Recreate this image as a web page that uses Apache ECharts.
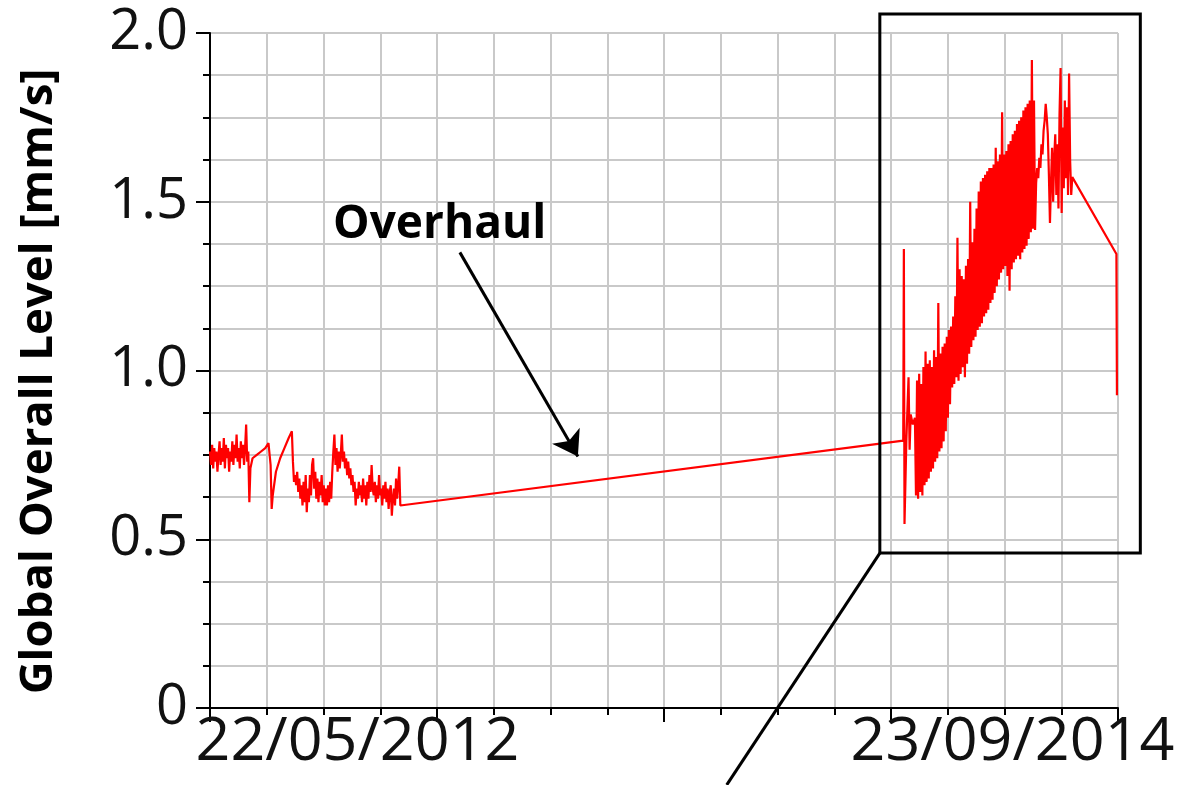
<!DOCTYPE html>
<html><head><meta charset="utf-8">
<script src="https://cdn.jsdelivr.net/npm/echarts@6/dist/echarts.min.js"></script>
<style>html,body{margin:0;padding:0;background:#fff}#c{width:1186px;height:785px}</style>
</head><body><div id="c"></div>
<script>
// x = days since 22/05/2012
const dateLabels = ['22/05/2012', '23/09/2014'];
const spanDays = 854;
const yMax = 2.0;
const yTitle = 'Global Overall Level [mm/s]';
const annotationText = 'Overhaul';

const beforeOverhaul = [
[0,0.76],[1,0.72],[2,0.78],[3,0.71],[4,0.77],[5,0.73],[6,0.76],[7,0.70],[8,0.75],[9,0.79],
[10,0.72],[11,0.77],[12,0.73],[13,0.80],[14,0.71],[15,0.78],[16,0.74],[17,0.77],[18,0.70],[19,0.76],
[20,0.73],[21,0.79],[22,0.72],[23,0.78],[24,0.74],[25,0.81],[26,0.73],[27,0.77],[28,0.71],[29,0.79],
[30,0.74],[31,0.78],[32,0.72],[33,0.77],[34,0.84],[35,0.73],[36,0.76],[37,0.61],[38,0.71],[40,0.74],
[44,0.75],[48,0.76],[52,0.77],[55,0.785],[57,0.72],[58,0.59],[59,0.63],[62,0.70],[66,0.74],[70,0.77],
[74,0.80],[77,0.82],[78,0.73],[79,0.67],[80,0.69],[81,0.66],[82,0.70],[83,0.64],[84,0.68],[85,0.62],
[86,0.66],[87,0.60],[88,0.67],[89,0.61],[90,0.69],[91,0.58],[92,0.65],[93,0.61],[94,0.69],[95,0.63],
[96,0.72],[97,0.74],[98,0.65],[99,0.70],[100,0.62],[101,0.68],[102,0.61],[103,0.67],[104,0.63],[105,0.69],
[106,0.61],[107,0.66],[108,0.60],[109,0.65],[110,0.60],[111,0.66],[112,0.61],[113,0.67],[114,0.62],[115,0.70],
[116,0.76],[117,0.81],[118,0.72],[119,0.77],[120,0.70],[121,0.76],[122,0.71],[123,0.75],[124,0.81],[125,0.73],
[126,0.76],[127,0.71],[128,0.74],[129,0.69],[130,0.73],[131,0.68],[132,0.71],[133,0.66],[134,0.69],[135,0.64],
[136,0.67],[137,0.60],[138,0.65],[139,0.62],[140,0.67],[141,0.63],[142,0.66],[143,0.61],[144,0.68],[145,0.62],
[146,0.66],[147,0.60],[148,0.67],[149,0.62],[150,0.69],[151,0.64],[152,0.72],[153,0.65],[154,0.63],[155,0.67],
[156,0.61],[157,0.66],[158,0.62],[159,0.69],[160,0.63],[161,0.65],[162,0.60],[163,0.66],[164,0.62],[165,0.67],
[166,0.61],[167,0.65],[168,0.59],[169,0.64],[170,0.66],[171,0.57],[172,0.62],[173,0.65],[174,0.60],[175,0.68],
[176,0.62],[177,0.66],[178,0.715],[179,0.60],[180,0.597]
];

const afterOverhaul = [
[652,0.792],[652.6,1.36],[653.2,0.545],[655,0.80],[657,0.98],[658,0.765],[659,0.87],[661,0.84],[663,0.86],
[664,0.63],[665,0.97],[666,0.62],[667,0.99],[668,0.64],[669,0.96],[670,0.63],[671,1.01],[672,0.66],[673,1.056],
[674,0.67],[675,1.02],[676,0.68],[677,1.03],[678,0.70],[679,1.01],[680,0.71],[681,1.06],[682,0.73],[683,1.04],
[684,0.74],[685,1.20],[686,0.76],[687,1.05],[688,0.77],[689,1.07],[690,0.79],[691,1.08],[692,0.82],[693,1.10],
[694,0.86],[695,1.12],[696,0.90],[697,1.13],[698,0.95],[699,1.16],[700,0.96],[701,1.22],[702,0.98],[703,1.393],
[704,0.97],[705,1.30],[706,0.99],[707,1.28],[708,1.01],[709,1.27],[710,0.98],[711,1.31],[712,1.02],[713,1.33],
[714,1.05],[715,1.50],[716,1.07],[717,1.38],[718,1.09],[719,1.42],[720,1.10],[721,1.48],[722,1.12],[723,1.53],
[724,1.13],[725,1.56],[726,1.14],[727,1.57],[728,1.16],[729,1.58],[730,1.17],[731,1.59],[732,1.18],[733,1.60],
[734,1.20],[735,1.60],[736,1.21],[737,1.61],[738,1.23],[739,1.66],[740,1.25],[741,1.62],[742,1.27],[743,1.64],
[744,1.29],[745,1.765],[746,1.30],[747,1.64],[748,1.31],[749,1.65],[750,1.28],[751,1.67],[752,1.236],[753,1.68],
[754,1.30],[755,1.70],[756,1.32],[757,1.71],[758,1.33],[759,1.73],[760,1.34],[761,1.74],[762,1.33],[763,1.75],
[764,1.35],[765,1.77],[766,1.36],[767,1.78],[768,1.37],[769,1.79],[770,1.39],[771,1.80],[772,1.41],[773,1.92],
[774,1.42],[775,1.80],[776,1.416],[777,1.556],[778,1.60],[779,1.57],[780,1.63],[781,1.60],[782,1.67],[783,1.64],
[784,1.71],[785,1.74],[786,1.79],[787,1.75],[788,1.70],[789,1.58],[790,1.437],[791,1.56],[792,1.66],[793,1.50],
[794,1.63],[795,1.70],[796,1.52],[797,1.67],[798,1.48],[799,1.76],[800,1.896],[801,1.467],[802,1.72],[803,1.54],
[804,1.80],[805,1.57],[806,1.78],[807,1.52],[808,1.88],[809,1.62],[810,1.52],[811,1.573],
[852.5,1.345],[853,0.927]
];

// annotation anchors in data coordinates
const arrowFrom = [235, 1.35];
const arrowTo = [346, 0.745];
const textAt = [216, 1.43];
const zoomBox = [630, 2.056, 875, 0.459];
const connectorEnd = [486, -0.228];

const FONT = "'Open Sans', 'Noto Sans', sans-serif";
const chart = echarts.init(document.getElementById('c'), null, {renderer: 'canvas'});

const labelW = 325;
chart.setOption({
  animation: false,
  backgroundColor: '#fff',
  grid: {left: 210, right: 68, top: 33, bottom: 77, containLabel: false, outerBoundsMode: 'none'},
  xAxis: [
    {type: 'value', min: 0, max: spanDays, interval: spanDays / 16, position: 'bottom',
     axisLine: {show: true, onZero: false, lineStyle: {color: '#000', width: 2}},
     axisTick: {show: true, length: 7, lineStyle: {color: '#000', width: 2}},
     axisLabel: {show: false},
     splitLine: {show: true, lineStyle: {color: '#c9c9c9', width: 2}}},
    {type: 'value', min: 0, max: spanDays, interval: spanDays / 4, position: 'bottom',
     axisLine: {show: false, onZero: false},
     axisTick: {show: true, length: 14, lineStyle: {color: '#000', width: 2}},
     splitLine: {show: false},
     axisLabel: {show: true, showMinLabel: true, showMaxLabel: true, margin: 4,
       fontSize: 61, fontFamily: FONT, color: '#111',
       formatter: v => v === 0 ? '{sp|}{t|' + dateLabels[0] + '}' :
                       (v === spanDays ? '{t|' + dateLabels[1] + '}{sp2|}' : ''),
       rich: {t: {fontSize: 61, fontFamily: FONT, color: '#111'},
              sp: {width: labelW - 30, fontSize: 61},
              sp2: {width: labelW - 114, fontSize: 61}}}}
  ],
  yAxis: [
    {type: 'value', min: 0, max: yMax, interval: 0.125, position: 'left',
     axisLine: {show: true, onZero: false, lineStyle: {color: '#000', width: 2}},
     axisTick: {show: true, length: 7, lineStyle: {color: '#000', width: 2}},
     axisLabel: {show: false},
     splitLine: {show: true, lineStyle: {color: '#c9c9c9', width: 2}}},
    {type: 'value', min: 0, max: yMax, interval: 0.5, position: 'left',
     axisLine: {show: false, onZero: false},
     axisTick: {show: true, length: 14, lineStyle: {color: '#000', width: 2}},
     splitLine: {show: false},
     axisLabel: {show: true, margin: 22, fontSize: 56, fontFamily: FONT, color: '#111',
       formatter: v => v === 0 ? '0' : v.toFixed(1)},
     name: yTitle, nameLocation: 'middle', nameGap: 148, nameRotate: 90,
     nameTextStyle: {fontSize: 45.5, fontWeight: 'bold', fontFamily: FONT, color: '#000',
                     padding: [0, 22, 0, 0]}}
  ],
  series: [{
    type: 'line', xAxisIndex: 0, yAxisIndex: 0,
    data: beforeOverhaul.concat(afterOverhaul),
    showSymbol: false, symbol: 'none', sampling: null,
    lineStyle: {color: '#ff0000', width: 2.2},
    z: 3,
    markLine: {
      silent: true, symbol: ['none', 'arrow'], symbolSize: 24,
      lineStyle: {color: '#000', width: 3, type: 'solid'},
      label: {show: false}, emphasis: {disabled: true},
      data: [[{coord: arrowFrom}, {coord: arrowTo}]]
    },
    markPoint: {
      silent: true, symbol: 'circle', symbolSize: 1,
      itemStyle: {color: 'rgba(0,0,0,0)'},
      label: {show: true, position: 'inside', formatter: annotationText,
              fontSize: 46, fontWeight: 'bold', fontFamily: FONT, color: '#000'},
      data: [{coord: textAt}]
    }
  }]
});

const opt = {xAxisIndex: 0, yAxisIndex: 0};
const a = chart.convertToPixel(opt, [zoomBox[0], zoomBox[1]]);
const b = chart.convertToPixel(opt, [zoomBox[2], zoomBox[3]]);
const c = chart.convertToPixel(opt, connectorEnd);
chart.setOption({
  graphic: [
    {type: 'rect', z: 100, shape: {x: a[0], y: a[1], width: b[0] - a[0], height: b[1] - a[1]},
     style: {fill: null, stroke: '#000', lineWidth: 3}},
    {type: 'line', z: 100, shape: {x1: a[0], y1: b[1], x2: c[0], y2: c[1]},
     style: {stroke: '#000', lineWidth: 3}}
  ]
});
</script></body></html>
